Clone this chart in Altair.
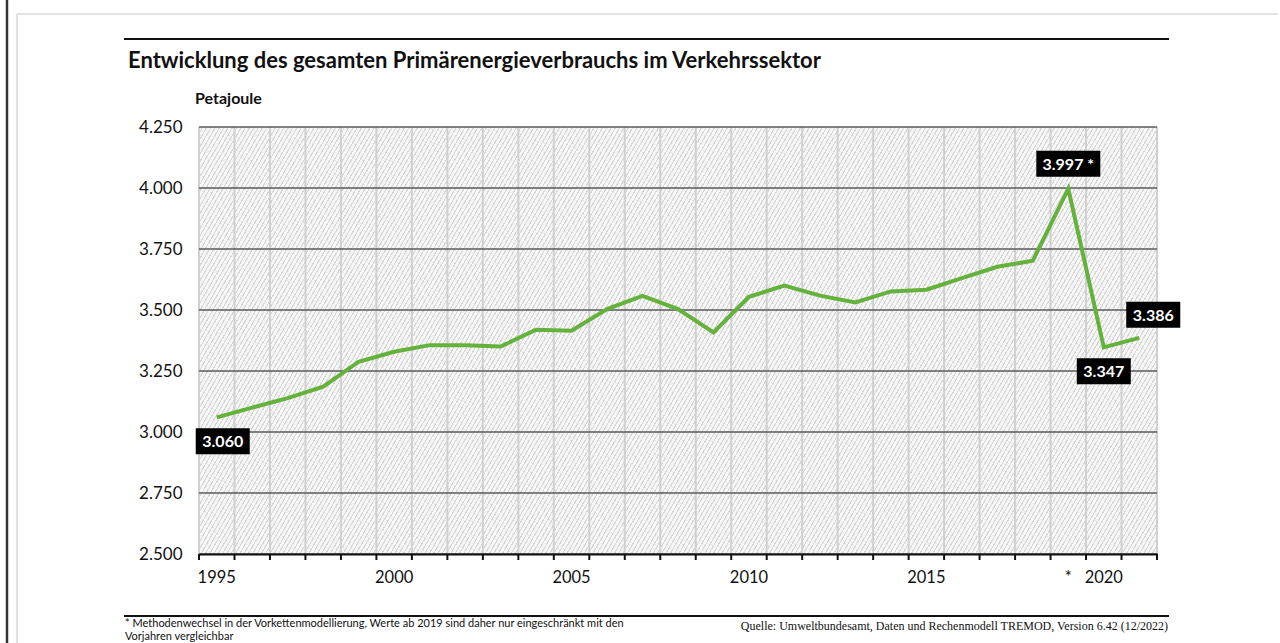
import altair as alt
import pandas as pd

years = list(range(1995, 2022))
values = [3060, 3100, 3139, 3186, 3288, 3329, 3356, 3356, 3350, 3419, 3415, 3504,
          3558, 3504, 3408, 3554, 3600, 3559, 3531, 3576, 3583, 3631, 3677, 3702,
          3997, 3347, 3386]
label_years = [1995, 2019, 2020, 2021]
y_ticks = [2500, 2750, 3000, 3250, 3500, 3750, 4000, 4250]

title_text = "Entwicklung des gesamten Primärenergieverbrauchs im Verkehrssektor"
unit_text = "Petajoule"
foot1 = "* Methodenwechsel in der Vorkettenmodellierung, Werte ab 2019 sind daher nur eingeschränkt mit den"
foot2 = "Vorjahren vergleichbar"
source_text = "Quelle: Umweltbundesamt, Daten und Rechenmodell TREMOD, Version 6.42 (12/2022)"

def fmt(v, y):
    s = f"{v:,}".replace(",", ".")
    return s + (" *" if y == 2019 else "")

df = pd.DataFrame({"year": years, "value": values})
df["label"] = [fmt(v, y) for v, y in zip(values, years)]
df_ticks = pd.DataFrame({"v": y_ticks})

W, H = 958, 427
FONT = "Lato"
GREEN = "#64b23c"

xscale = alt.Scale(type="band", paddingInner=0, paddingOuter=0)
yscale = alt.Scale(domain=[2500, 4250], nice=False, zero=False)

xaxis = alt.Axis(title=None, grid=False, ticks=False, bandPosition=0.5,
                 domainColor="#111", domainWidth=2,
                 labelPadding=15, labelAngle=0,
                 labelFontSize=16.5, labelColor="#111", labelOverlap=False, zindex=1,
                 labelExpr="datum.value % 5 == 0 ? datum.value : (datum.value == 2019 ? '*' : '')")
yaxis = alt.Axis(title=None, values=y_ticks, grid=False, domain=False, ticks=False,
                 labelPadding=17, labelFontSize=17, labelColor="#111",
                 labelExpr="replace(format(datum.value, ','), ',', '.')")

xenc = alt.X("year:O", bandPosition=0.5, scale=xscale, axis=xaxis)
yenc = alt.Y("value:Q", scale=yscale, axis=yaxis)

# hatched background via a striped linear gradient
N = 280
LIGHT, DARK = "#f6f6f6", "#d6d6d6"
stops = []
for k in range(N):
    stops += [{"offset": k / N, "color": LIGHT},
              {"offset": (k + 0.7) / N, "color": LIGHT},
              {"offset": (k + 0.7) / N, "color": DARK},
              {"offset": (k + 1) / N, "color": DARK}]
hatch = alt.LinearGradient(gradient="linear", x1=0, y1=0, x2=1.1795, y2=0.3043, stops=stops)

one = alt.Data(values=[{}])
bg = alt.Chart(one).mark_rect(color=hatch, strokeWidth=0).encode(
    x=alt.value(0), x2=alt.value(W), y=alt.value(0), y2=alt.value(H))

base = alt.Chart(df)
xedge = alt.X("year:O", bandPosition=0, scale=xscale, axis=xaxis)
vgrid = base.mark_rule(color="#d0d0d0", strokeWidth=2).encode(x=xedge)
vgrid_end = alt.Chart(one).mark_rule(color="#d0d0d0", strokeWidth=2).encode(
    x=alt.value(W), y=alt.value(0), y2=alt.value(H))
xticks = base.mark_rule(color="#111", strokeWidth=2).encode(
    x=xedge, y=alt.value(H), y2=alt.value(H + 6))
tick_end = alt.Chart(one).mark_rule(color="#111", strokeWidth=2).encode(
    x=alt.value(W), y=alt.value(H), y2=alt.value(H + 6))
hgrid = alt.Chart(df_ticks).mark_rule(color="#5a5a5a", strokeWidth=1.5).encode(
    y=alt.Y("v:Q", scale=yscale, axis=yaxis))

line = base.mark_line(color=GREEN, strokeWidth=4, strokeJoin="miter").encode(x=xenc, y=yenc)

# label boxes: (year, dx, dy, box width)
label_specs = [(1995, 6, 24, 54), (2019, 0, -25, 64), (2020, 0, 24, 54), (2021, 14, -23, 54)]
layers = [bg, vgrid, vgrid_end, xticks, tick_end, hgrid, line]
for (yr, dx, dy, bw) in label_specs:
    sub = base.transform_filter(alt.datum.year == yr)
    h = 26.0 / bw
    path = f"M-1,-{h:.4f}L1,-{h:.4f}L1,{h:.4f}L-1,{h:.4f}Z"
    box = sub.mark_point(shape=path, filled=True, color="#000", opacity=1, size=bw * bw,
                         xOffset=dx, yOffset=dy).encode(x=xenc, y=yenc)
    txt = sub.mark_text(color="white", fontWeight="bold", fontSize=16, font=FONT,
                        align="center", baseline="middle", dx=dx, dy=dy + 1).encode(
        x=xenc, y=yenc, text="label:N")
    layers += [box, txt]

def hrule(x1, x2, y, color, w):
    return alt.Chart(one).mark_rule(color=color, strokeWidth=w).encode(
        x=alt.value(x1), x2=alt.value(x2), y=alt.value(y))

def vrule(x, y1, y2, color, w):
    return alt.Chart(one).mark_rule(color=color, strokeWidth=w).encode(
        x=alt.value(x), y=alt.value(y1), y2=alt.value(y2))

def label(text, x, y, size, weight="normal", align="left", font=FONT, color="#111"):
    return alt.Chart(one).mark_text(text=text, fontSize=size, fontWeight=weight, align=align,
                                    baseline="alphabetic", font=font, color=color).encode(
        x=alt.value(x), y=alt.value(y))

deco = [
    vrule(-192, -127, 516, "#333", 2.5),
    hrule(-182, 1079, -113, "#e2e2e2", 2),
    vrule(-182, -113, 516, "#e2e2e2", 2),
    hrule(-75, 970, -88, "#111", 2),
    hrule(-75, 970, 489, "#111", 2),
    label(title_text, -71, -59, 22, "bold"),
    label(unit_text, -4, -23, 16, "bold"),
    label(foot1, -74, 500, 11),
    label(foot2, -74, 513, 11),
    label(source_text, 969, 503, 12, align="right", font="Liberation Serif"),
]

chart = alt.layer(*layers, *deco).properties(
    width=W, height=H,
    autosize=alt.AutoSizeParams(type="none"),
    padding={"left": 199, "top": 127, "right": 123, "bottom": 89},
    background="white",
).configure_view(stroke=None).configure(font=FONT)

chart.save("out.html", embed_options={"renderer": "svg", "actions": False})
